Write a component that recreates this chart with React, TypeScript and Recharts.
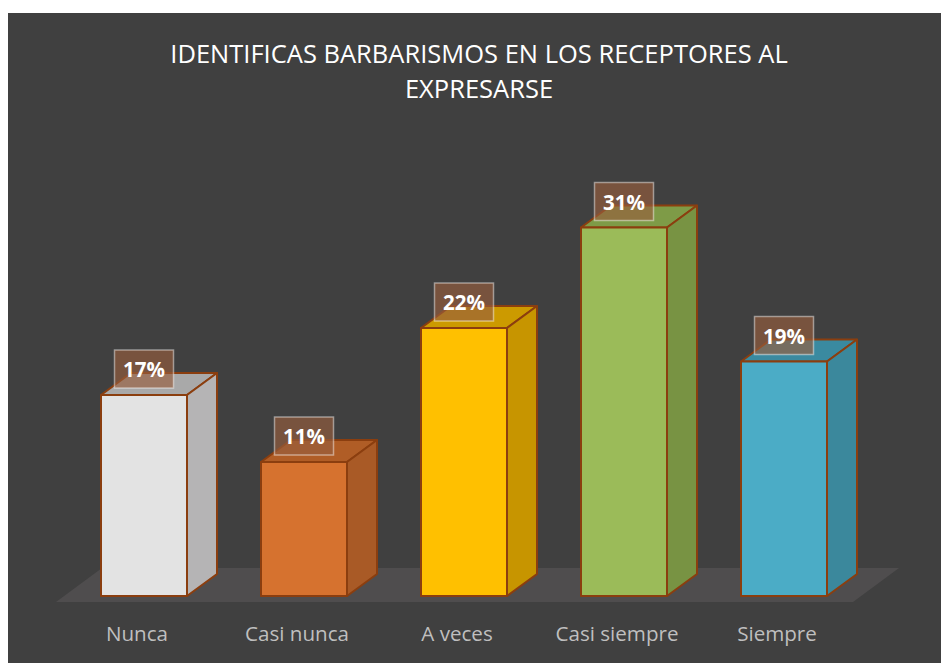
import React from "react";
import { BarChart, Bar, XAxis, YAxis, LabelList, ReferenceArea } from "recharts";

const categories = ["Nunca", "Casi nunca", "A veces", "Casi siempre", "Siempre"];
const counts = [6, 4, 8, 11, 7];
const total = 36;
const frontColors = ["#e3e3e3", "#d6722f", "#ffc000", "#9bbb59", "#4bacc6"];
const topColors = ["#a9a9a9", "#b05d26", "#cc9a00", "#7e9b47", "#3a8aa0"];
const sideColors = ["#b5b4b5", "#a95a26", "#c79500", "#789343", "#3b889c"];

const data = categories.map((name, i) => ({ name, value: counts[i] }));

const DX = 30;
const DY = 22;
const EDGE = "#8b3e0f";
const FONT = "'Open Sans', 'Noto Sans', sans-serif";

const Bar3D = (props: any) => {
	const { x, y, width, height, index } = props;
	const bottom = y + height;
	const right = x + width;
	return (
		<g strokeLinejoin="round">
			<polygon
				points={`${x},${y} ${x + DX},${y - DY} ${right + DX},${y - DY} ${right},${y}`}
				fill={topColors[index]}
				stroke={EDGE}
				strokeWidth={2}
			/>
			<polygon
				points={`${right},${y} ${right + DX},${y - DY} ${right + DX},${bottom - DY} ${right},${bottom}`}
				fill={sideColors[index]}
				stroke={EDGE}
				strokeWidth={2}
			/>
			<rect x={x} y={y} width={width} height={height} fill={frontColors[index]} stroke={EDGE} strokeWidth={2} />
		</g>
	);
};

const Floor = (props: any) => {
	const { x, y, width, height } = props;
	const b = y + height;
	const pts = `${x - 8},${b + 6} ${x + width - 11},${b + 6} ${x + width + 35},${b - 28} ${x + 38},${b - 28}`;
	return <polygon points={pts} fill="#4f4d4e" />;
};

const PctLabel = (props: any) => {
	const { x, y, width, value } = props;
	const cx = x + width / 2;
	const pct = Math.round((value / total) * 100) + "%";
	return (
		<g>
			<rect x={cx - 29.5} y={y - 45} width={59} height={38} fill="#965e3e" fillOpacity={0.65} stroke="#ffffff" strokeOpacity={0.45} strokeWidth={1.5} />
			<text x={cx} y={y - 26} textAnchor="middle" dominantBaseline="central" fill="#ffffff" fontWeight="bold" fontSize={20.5} fontFamily={FONT}>
				{pct}
			</text>
		</g>
	);
};

const CatTick = (props: any) => {
	const { x, y, payload } = props;
	return (
		<text x={x - 7} y={y + 29} textAnchor="middle" dominantBaseline="central" fill="#bfbfbf" fontSize={20.6} fontFamily={FONT}>
			{payload.value}
		</text>
	);
};

const App = () => {
	return (
		<div style={{ position: "absolute", left: 8, top: 13, width: 933, height: 650, background: "#404040" }}>
			<div
				style={{
					position: "absolute",
					left: 21,
					top: 23,
					width: 900,
					textAlign: "center",
					color: "#ffffff",
					fontFamily: FONT,
					fontSize: 25.5,
					lineHeight: "35px",
				}}
			>
				IDENTIFICAS BARBARISMOS EN LOS RECEPTORES AL
				<br />
				EXPRESARSE
			</div>
			<BarChart
				width={933}
				height={650}
				data={data}
				margin={{ top: 181, right: 77, bottom: 37, left: 56 }}
				style={{ position: "absolute", left: 0, top: 0 }}
			>
				<XAxis dataKey="name" axisLine={false} tickLine={false} height={30} tick={<CatTick />} interval={0} />
				<YAxis hide domain={[0, 12]} />
				<ReferenceArea y1={0} y2={12} ifOverflow="visible" shape={<Floor />} />
				<Bar dataKey="value" barSize={86} shape={<Bar3D />} isAnimationActive={false}>
					<LabelList dataKey="value" content={<PctLabel />} />
				</Bar>
			</BarChart>
		</div>
	);
};

export default App;
